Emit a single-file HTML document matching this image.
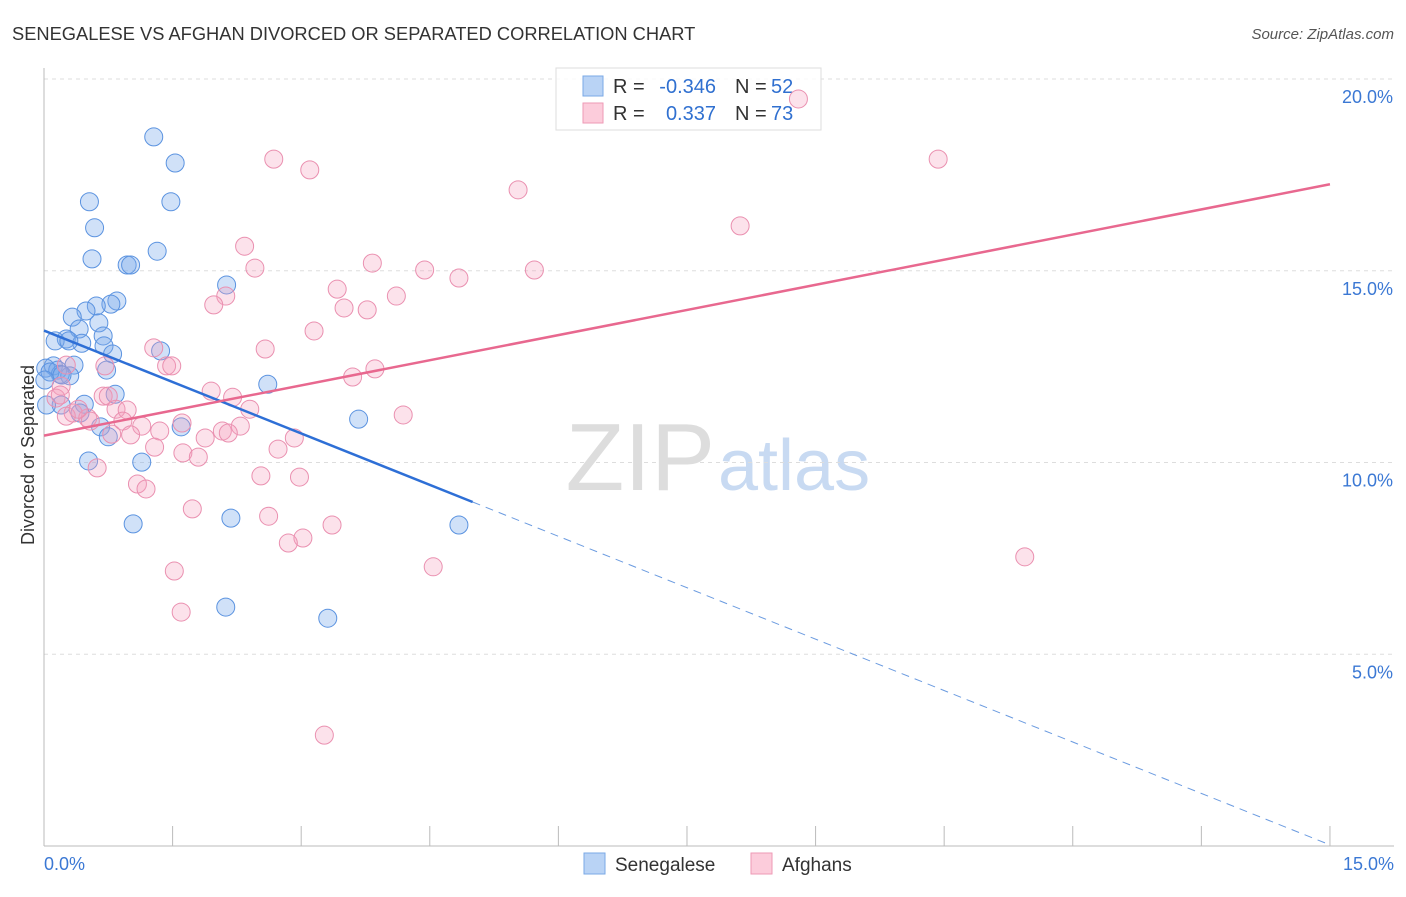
<!DOCTYPE html>
<html><head><meta charset="utf-8"><style>
body{margin:0;background:#fff;font-family:"Liberation Sans",sans-serif;}
svg text{font-family:"Liberation Sans",sans-serif;}
</style></head><body>
<svg id="chart" width="1406" height="892">
<text x="12" y="40" font-size="18.3" fill="#333">SENEGALESE VS AFGHAN DIVORCED OR SEPARATED CORRELATION CHART</text>
<text x="1394" y="39" font-size="15" fill="#555" font-style="italic" text-anchor="end">Source: ZipAtlas.com</text>
<text x="715" y="490" font-size="96" fill="#ddd" text-anchor="end" font-family="Liberation Serif">ZIP</text>
<text x="718" y="490" font-size="72" fill="#c8daf2">atlas</text>
<g id="grid"></g><g id="axes"></g>
<g>
<rect x="556" y="68" width="265" height="62" fill="#fff" fill-opacity="0.85" stroke="#ddd"/>
<rect x="583" y="76" width="20" height="20" fill="#b9d3f5" stroke="#7aa8e6"/>
<rect x="583" y="103" width="20" height="20" fill="#fcccdb" stroke="#ee9ab6"/>
<text x="613" y="93" font-size="20" fill="#333">R =</text>
<text x="716" y="93" font-size="20" fill="#3070d0" text-anchor="end">-0.346</text>
<text x="735" y="93" font-size="20" fill="#333">N =</text>
<text x="771" y="93" font-size="20" fill="#3070d0">52</text>
<text x="613" y="120" font-size="20" fill="#333">R =</text>
<text x="716" y="120" font-size="20" fill="#3070d0" text-anchor="end">0.337</text>
<text x="735" y="120" font-size="20" fill="#333">N =</text>
<text x="771" y="120" font-size="20" fill="#3070d0">73</text>
</g>
<g id="pts"></g><g id="lines"></g>
<text transform="translate(34,455) rotate(-90)" font-size="18" fill="#333" text-anchor="middle">Divorced or Separated</text>
<g>
<rect x="584" y="853" width="21" height="21" fill="#b9d3f5" stroke="#7aa8e6"/>
<text x="615" y="871" font-size="19" fill="#333">Senegalese</text>
<rect x="751" y="853" width="21" height="21" fill="#fcccdb" stroke="#ee9ab6"/>
<text x="782" y="871" font-size="19" fill="#333">Afghans</text>
</g>
</svg>
<script>
const xTicks=[0,1.5,3,4.5,6,7.5,9,10.5,12,13.5,15];
const yTicks=[5,10,15,20];
const yTickLabels=["5.0%","10.0%","15.0%","20.0%"];
const senX=[1.28,1.53,0.53,1.48,0.59,1.32,0.56,0.97,1.01,2.13,0.85,0.78,0.61,0.49,0.33,0.64,0.41,0.69,0.26,0.13,0.44,0.29,0.70,1.36,0.80,0.11,0.02,0.35,0.16,0.73,0.30,2.61,0.19,0.83,0.47,0.20,0.42,3.67,1.60,0.66,0.75,0.52,1.14,4.84,1.04,2.18,2.12,3.31,0.07,0.01,0.21,0.03];
const senY=[18.49,17.81,16.80,16.80,16.12,15.51,15.31,15.15,15.15,14.63,14.21,14.13,14.08,13.95,13.79,13.64,13.48,13.30,13.22,13.17,13.11,13.17,13.04,12.91,12.83,12.52,12.46,12.54,12.41,12.41,12.26,12.04,12.30,11.78,11.52,11.50,11.29,11.13,10.93,10.93,10.67,10.04,10.01,8.37,8.40,8.55,6.23,5.94,12.36,12.15,12.28,11.50];
const afgX=[8.80,2.68,3.10,10.43,5.53,8.12,2.34,2.46,3.83,4.44,4.84,5.72,3.42,2.12,4.11,1.98,3.50,3.77,3.15,2.58,1.28,1.43,1.49,0.71,3.86,3.60,1.95,2.20,0.20,0.14,0.69,0.75,2.40,0.84,0.97,4.19,0.34,0.51,0.26,0.92,1.61,1.14,2.29,2.08,1.35,2.15,1.01,0.79,1.88,2.92,1.29,1.62,1.80,2.73,0.62,2.53,2.98,1.09,1.19,1.73,2.62,3.36,3.02,2.85,4.54,1.52,11.44,1.60,3.27,0.19,0.54,0.26,0.40];
const afgY=[19.48,17.91,17.63,17.91,17.11,16.17,15.64,15.07,15.20,15.02,14.81,15.02,14.52,14.34,14.34,14.11,14.03,13.98,13.43,12.96,12.99,12.52,12.52,12.52,12.44,12.23,11.86,11.70,11.99,11.68,11.73,11.73,11.39,11.39,11.37,11.24,11.29,11.16,11.21,11.08,11.03,10.95,10.95,10.82,10.82,10.77,10.72,10.74,10.64,10.64,10.40,10.25,10.14,10.35,9.86,9.65,9.62,9.44,9.31,8.79,8.60,8.37,8.03,7.90,7.28,7.17,7.54,6.10,2.89,11.76,11.08,12.54,11.39];
const senLine=[13.44,-0.894];
const afgLine=[10.70,0.437];
const NS="http://www.w3.org/2000/svg";
const X=v=>44+v*85.73, Y=v=>846-v*38.35;
function mk(tag,attrs,parent){const e=document.createElementNS(NS,tag);for(const k in attrs)e.setAttribute(k,attrs[k]);document.getElementById(parent).appendChild(e);return e;}
let e=mk('line',{x1:44,y1:846,x2:1394,y2:846,stroke:'#bbb'},'axes');


e=mk('line',{x1:44,y1:68,x2:44,y2:846,stroke:'#bbb'},'axes');


xTicks.forEach(t=>{const l=mk('line',{x1:X(t),y1:826,x2:X(t),y2:846,stroke:'#bbb'},'axes');

});
let tx=mk('text',{x:44,y:870,'font-size':18,fill:'#3b78d4'},'axes');tx.textContent='0.0%';


tx=mk('text',{x:1394,y:870,'font-size':18,fill:'#3b78d4','text-anchor':'end'},'axes');tx.textContent='15.0%';


yTicks.forEach((t,i)=>{const g=mk('line',{x1:44,y1:Y(t),x2:1394,y2:Y(t),stroke:'#ddd','stroke-dasharray':'4,4'},'grid');


const s=mk('text',{x:1393,y:Y(t)+24,'font-size':18,fill:'#3b78d4','text-anchor':'end'},'axes');s.textContent=yTickLabels[i];

});
senX.forEach((x,i)=>{const c=mk('circle',{cx:X(x),cy:Y(senY[i]),r:9,fill:'rgba(120,170,235,0.35)',stroke:'#5b93e0','stroke-width':1},'pts');

});
afgX.forEach((x,i)=>{const c=mk('circle',{cx:X(x),cy:Y(afgY[i]),r:9,fill:'rgba(245,160,190,0.3)',stroke:'#ea90b0','stroke-width':1},'pts');

});
let l1=mk('line',{x1:X(0),y1:Y(senLine[0]),x2:X(5),y2:Y(senLine[0]+5*senLine[1]),stroke:'#2e6fd6','stroke-width':2.5},'lines');


let l2=mk('line',{x1:X(5),y1:Y(senLine[0]+5*senLine[1]),x2:X(15),y2:Y(senLine[0]+15*senLine[1]),stroke:'#6b9be0','stroke-width':1,'stroke-dasharray':'8,6'},'lines');


let l3=mk('line',{x1:X(0),y1:Y(afgLine[0]),x2:X(15),y2:Y(afgLine[0]+15*afgLine[1]),stroke:'#e8688f','stroke-width':2.5},'lines');


</script>
</body></html>
